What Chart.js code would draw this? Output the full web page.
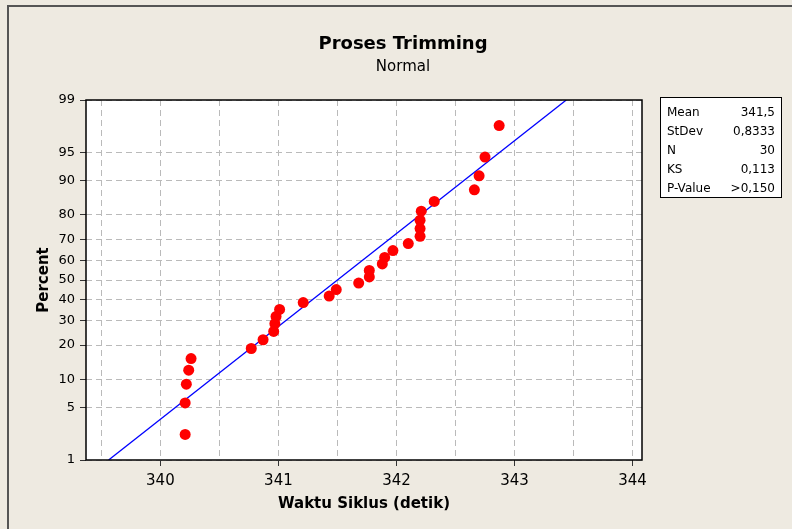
<!DOCTYPE html>
<html>
<head>
<meta charset="utf-8">
<title>Proses Trimming</title>
<script src="https://cdn.jsdelivr.net/npm/chart.js@4.4.0/dist/chart.umd.min.js"></script>
<style>
  body { margin: 0; background: #eeeae1; }
  canvas { display: block; }
</style>
</head>
<body>
<canvas id="probplot" width="792" height="529"></canvas>
<script>
// waktu siklus (detik), sudah diurutkan
const waktuSiklus = [340.21, 340.21, 340.22, 340.24, 340.26, 340.77, 340.87, 340.96, 340.97, 340.98,
  341.01, 341.21, 341.43, 341.49, 341.68, 341.77, 341.77, 341.88, 341.9, 341.97,
  342.1, 342.2, 342.2, 342.2, 342.21, 342.32, 342.66, 342.7, 342.75, 342.87];
// posisi plot (percent) tiap titik
const percentRank = [2.3, 5.6, 8.9, 12.2, 15.5, 18.8, 22.0, 25.3, 28.6, 31.9,
  35.2, 38.5, 41.8, 45.1, 48.4, 51.6, 54.9, 58.2, 61.5, 64.8,
  68.1, 71.4, 74.7, 78.0, 81.3, 84.5, 87.8, 91.1, 94.4, 97.7];

const xTicks = [339.5, 340, 340.5, 341, 341.5, 342, 342.5, 343, 343.5, 344];
const percentTicks = [1, 5, 10, 20, 30, 40, 50, 60, 70, 80, 90, 95, 99];

const statLabels = ["Mean", "StDev", "N", "KS", "P-Value"];
const statValues = ["341,5", "0,8333", "30", "0,113", ">0,150"];
const fitMean = 341.5;
const fitStDev = 0.8333;

// inverse normal CDF (Acklam)
function normInv(p) {
  const a = [-3.969683028665376e+01, 2.209460984245205e+02, -2.759285104469687e+02, 1.383577518672690e+02, -3.066479806614716e+01, 2.506628277459239e+00];
  const b = [-5.447609879822406e+01, 1.615858368580409e+02, -1.556989798598866e+02, 6.680131188771972e+01, -1.328068155288572e+01];
  const c = [-7.784894002430293e-03, -3.223964580411365e-01, -2.400758277161838e+00, -2.549732539343734e+00, 4.374664141464968e+00, 2.938163982698783e+00];
  const d = [7.784695709041462e-03, 3.224671290700398e-01, 2.445134137142996e+00, 3.754408661907416e+00];
  const pLow = 0.02425;
  let q, r;
  if (p < pLow) {
    q = Math.sqrt(-2 * Math.log(p));
    return (((((c[0]*q+c[1])*q+c[2])*q+c[3])*q+c[4])*q+c[5]) / ((((d[0]*q+d[1])*q+d[2])*q+d[3])*q+1);
  }
  if (p > 1 - pLow) {
    q = Math.sqrt(-2 * Math.log(1 - p));
    return -(((((c[0]*q+c[1])*q+c[2])*q+c[3])*q+c[4])*q+c[5]) / ((((d[0]*q+d[1])*q+d[2])*q+d[3])*q+1);
  }
  q = p - 0.5;
  r = q * q;
  return (((((a[0]*r+a[1])*r+a[2])*r+a[3])*r+a[4])*r+a[5])*q / (((((b[0]*r+b[1])*r+b[2])*r+b[3])*r+b[4])*r+1);
}

function zOf(pct) {
  return normInv(pct / 100);
}

const points = waktuSiklus.map((x, i) => ({ x: x, y: zOf(percentRank[i]) }));
const fitLine = [1, 99].map(p => ({ x: fitMean + zOf(p) * fitStDev, y: zOf(p) }));

const FONT = "'DejaVu Sans', Verdana, sans-serif";

const framePlugin = {
  id: "frame",
  beforeDraw(chart) {
    const { ctx, chartArea: a } = chart;
    ctx.save();
    ctx.fillStyle = "#eeeae1";
    ctx.fillRect(0, 0, chart.width, chart.height);
    ctx.fillStyle = "#ffffff";
    ctx.fillRect(a.left, a.top, a.right - a.left, a.bottom - a.top);
    // outer frame (top + left)
    ctx.strokeStyle = "#555555";
    ctx.lineWidth = 2;
    ctx.beginPath();
    ctx.moveTo(8, chart.height);
    ctx.lineTo(8, 6);
    ctx.lineTo(chart.width, 6);
    ctx.stroke();
    ctx.restore();
  },
  afterDraw(chart) {
    const { ctx, chartArea: a } = chart;
    ctx.save();
    ctx.strokeStyle = "#000000";
    ctx.lineWidth = 1.5;
    ctx.strokeRect(a.left, a.top, a.right - a.left, a.bottom - a.top);

    // title
    ctx.fillStyle = "#000000";
    ctx.textAlign = "center";
    ctx.textBaseline = "middle";
    ctx.font = "bold 18px " + FONT;
    ctx.fillText("Proses Trimming", 403, 44);
    ctx.font = "15px " + FONT;
    ctx.fillText("Normal", 403, 67);

    // stats box
    ctx.fillStyle = "#ffffff";
    ctx.fillRect(660, 97, 121, 100);
    ctx.strokeStyle = "#000000";
    ctx.lineWidth = 1;
    ctx.strokeRect(660.5, 97.5, 121, 100);
    ctx.fillStyle = "#000000";
    ctx.font = "12px " + FONT;
    statLabels.forEach((lab, i) => {
      const y = 113 + i * 19;
      ctx.textAlign = "left";
      ctx.fillText(lab, 667, y);
      ctx.textAlign = "right";
      ctx.fillText(statValues[i], 775, y);
    });
    ctx.restore();
  }
};

const ctx = document.getElementById("probplot").getContext("2d");
const chart = new Chart(ctx, {
  type: "scatter",
  data: {
    datasets: [
      {
        label: "Waktu Siklus",
        data: points,
        pointRadius: 5.5,
        pointHoverRadius: 5.5,
        backgroundColor: "#ff0000",
        borderWidth: 0
      },
      {
        label: "Fit",
        data: fitLine,
        showLine: true,
        borderColor: "#0000ff",
        borderWidth: 1.3,
        pointRadius: 0,
        fill: false
      }
    ]
  },
  options: {
    responsive: false,
    animation: false,
    layout: { padding: { top: 100, right: 150, left: 0, bottom: 0 } },
    plugins: {
      legend: { display: false },
      tooltip: { enabled: false }
    },
    scales: {
      x: {
        type: "linear",
        min: 339.37,
        max: 344.08,
        afterBuildTicks: s => { s.ticks = xTicks.map(v => ({ value: v })); },
        afterFit: s => { s.height = 69; },
        ticks: {
          callback: v => Number.isInteger(v) ? String(v) : "",
          autoSkip: false,
          maxRotation: 0,
          color: "#000",
          padding: 6,
          font: { family: FONT, size: 15 }
        },
        grid: {
          color: "#bababa",
          tickLength: 6,
          tickColor: c => Number.isInteger(c.tick.value) ? "#333" : "rgba(0,0,0,0)"
        },
        border: { display: false, dash: [6, 4] },
        title: {
          display: true,
          text: "Waktu Siklus (detik)",
          color: "#000",
          font: { family: FONT, size: 15, weight: "bold" },
          padding: { top: 0, bottom: 16 }
        }
      },
      y: {
        type: "linear",
        min: zOf(1),
        max: zOf(99),
        afterBuildTicks: s => { s.ticks = percentTicks.map(p => ({ value: zOf(p) })); },
        afterFit: s => { s.width = 86; },
        ticks: {
          callback: (v, i) => String(percentTicks[i]),
          autoSkip: false,
          color: "#000",
          padding: 5,
          font: { family: FONT, size: 13 }
        },
        grid: {
          color: "#bababa",
          tickLength: 6,
          tickColor: "#333"
        },
        border: { display: false, dash: [6, 4] },
        title: {
          display: true,
          text: "Percent",
          color: "#000",
          font: { family: FONT, size: 15, weight: "bold" },
          padding: { top: 35, bottom: 0 }
        }
      }
    }
  },
  plugins: [framePlugin]
});
</script>
</body>
</html>
